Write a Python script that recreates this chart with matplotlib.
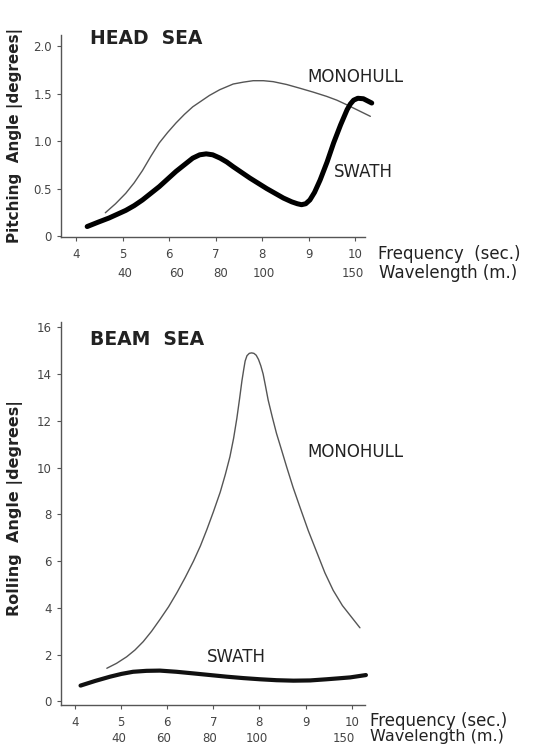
import matplotlib
matplotlib.use('Agg')
import matplotlib.pyplot as plt

plt.rcParams['font.family'] = ['DejaVu Sans']

# head sea (pitching)
head_mono_f = [4.63, 4.85, 5.07, 5.25, 5.43, 5.61, 5.79, 5.97, 6.15, 6.33, 6.51, 6.69, 6.87, 7.09,
               7.38, 7.6, 7.81, 8.03, 8.24, 8.53, 8.82, 9.1, 9.39, 9.61, 9.83, 10.08, 10.33]
head_mono_v = [0.245, 0.34, 0.45, 0.56, 0.69, 0.84, 0.98, 1.09, 1.19, 1.28, 1.36, 1.42, 1.48, 1.54,
               1.60, 1.62, 1.635, 1.635, 1.625, 1.595, 1.555, 1.515, 1.47, 1.43, 1.38, 1.32, 1.26]

head_swath_f = [4.24, 4.47, 4.71, 4.89, 5.07, 5.25, 5.43, 5.61, 5.79, 5.97, 6.15, 6.33, 6.51, 6.66,
                6.80, 6.94, 7.1, 7.24, 7.38, 7.56, 7.74, 7.92, 8.10, 8.28, 8.46, 8.64, 8.76, 8.85,
                8.94, 9.03, 9.13, 9.25, 9.4, 9.54, 9.69, 9.83, 9.90, 9.97, 10.06, 10.18, 10.28, 10.36]
head_swath_v = [0.10, 0.145, 0.19, 0.23, 0.27, 0.32, 0.38, 0.45, 0.52, 0.60, 0.68, 0.75, 0.82, 0.855,
                0.865, 0.855, 0.82, 0.78, 0.73, 0.67, 0.61, 0.555, 0.50, 0.45, 0.40, 0.36, 0.34, 0.33,
                0.34, 0.38, 0.46, 0.59, 0.78, 0.98, 1.17, 1.33, 1.39, 1.43, 1.45, 1.445, 1.42, 1.40]

# beam sea (rolling)
beam_mono_f = [4.69, 4.9, 5.12, 5.3, 5.48, 5.66, 5.84, 6.03, 6.21, 6.39, 6.57, 6.72, 6.86, 7.0,
               7.15, 7.26, 7.36, 7.44, 7.51, 7.57, 7.62, 7.66, 7.69, 7.73, 7.78, 7.83, 7.88,
               7.93, 7.98, 8.03, 8.08, 8.13, 8.19, 8.28, 8.37, 8.48, 8.59, 8.73, 8.88, 9.06,
               9.24, 9.42, 9.60, 9.8, 10.0, 10.18]
beam_mono_v = [1.42, 1.63, 1.91, 2.2, 2.56, 3.0, 3.5, 4.05, 4.65, 5.3, 6.0, 6.65, 7.35, 8.1,
               8.95, 9.7, 10.46, 11.25, 12.1, 12.95, 13.7, 14.2, 14.55, 14.78, 14.88, 14.9, 14.88,
               14.8, 14.62, 14.35, 14.0, 13.5, 12.88, 12.15, 11.46, 10.75, 10.03, 9.15, 8.3, 7.3,
               6.4, 5.5, 4.75, 4.1, 3.6, 3.15]

beam_swath_f = [4.12, 4.44, 4.76, 5.01, 5.26, 5.55, 5.84, 6.2, 6.57, 6.93, 7.29, 7.65, 8.01,
                8.37, 8.74, 9.1, 9.46, 9.72, 9.97, 10.31]
beam_swath_v = [0.68, 0.88, 1.06, 1.18, 1.27, 1.31, 1.32, 1.27, 1.20, 1.13, 1.06, 1.0, 0.95,
                0.91, 0.89, 0.9, 0.95, 0.99, 1.03, 1.13]

freq_ticks = [4, 5, 6, 7, 8, 9, 10]
wave_labels = ['40', '60', '80', '100', '150']
head_wave_pos = [5.05, 6.17, 7.10, 8.03, 9.96]
beam_wave_pos = [4.95, 5.91, 6.92, 7.94, 9.82]

head_yticks = [0, 0.5, 1.0, 1.5, 2.0]
head_ylabels = ['0', '0.5', '1.0', '1.5', '2.0']
beam_yticks = [0, 2, 4, 6, 8, 10, 12, 14, 16]

W, H = 536, 746
fig = plt.figure(figsize=(W / 100, H / 100), dpi=100)

def px_axes(left, top, right, bottom):
    return fig.add_axes([left / W, 1 - bottom / H, (right - left) / W, (bottom - top) / H])

ax1 = px_axes(61, 35, 365, 237)
ax2 = px_axes(61, 322, 365, 705)

grey = '#555555'
txt = '#222222'

for ax in (ax1, ax2):
    for s in ('top', 'right'):
        ax.spines[s].set_visible(False)
    for s in ('left', 'bottom'):
        ax.spines[s].set_color(grey)
        ax.spines[s].set_linewidth(1.0)
    ax.tick_params(colors=grey, length=3, width=0.8, labelsize=8.5, labelcolor='#444444')
    ax.tick_params(axis='x', pad=5)
    ax.set_xticks(freq_ticks)

# top panel
ax1.plot(head_mono_f, head_mono_v, color=grey, lw=1.0, solid_capstyle='round', clip_on=False)
ax1.plot(head_swath_f, head_swath_v, color='black', lw=3.6, solid_capstyle='round',
         solid_joinstyle='round', clip_on=False)
ax1.set_xlim(3.677, 10.215)
ax1.set_ylim(-0.01, 2.116)
ax1.set_yticks(head_yticks)
ax1.set_yticklabels(head_ylabels)
for x, lab in zip(head_wave_pos, wave_labels):
    ax1.annotate(lab, xy=(x, 0), xycoords=('data', 'axes fraction'), xytext=(0, -26),
                 textcoords='offset points', ha='center', va='center', fontsize=8.5, color='#444444')
ax1.text(4.30, 2.08, 'HEAD  SEA', fontsize=13.5, fontweight='bold', va='center', color=txt)
ax1.text(8.97, 1.67, 'MONOHULL', fontsize=12, va='center', color=txt)
ax1.text(9.55, 0.67, 'SWATH', fontsize=12, va='center', color=txt)

# bottom panel
ax2.plot(beam_mono_f, beam_mono_v, color=grey, lw=1.0, solid_capstyle='round', clip_on=False)
ax2.plot(beam_swath_f, beam_swath_v, color='#111111', lw=3.0, solid_capstyle='round',
         solid_joinstyle='round', clip_on=False)
ax2.set_xlim(3.696, 10.29)
ax2.set_ylim(-0.15, 16.22)
ax2.set_yticks(beam_yticks)
for x, lab in zip(beam_wave_pos, wave_labels):
    ax2.annotate(lab, xy=(x, 0), xycoords=('data', 'axes fraction'), xytext=(0, -24),
                 textcoords='offset points', ha='center', va='center', fontsize=8.5, color='#444444')
ax2.text(4.33, 15.49, 'BEAM  SEA', fontsize=13.5, fontweight='bold', va='center', color=txt)
ax2.text(9.03, 10.66, 'MONOHULL', fontsize=12, va='center', color=txt)
ax2.text(6.86, 1.90, 'SWATH', fontsize=12, va='center', color=txt)

# axis captions
fig.text(378 / W, 1 - 254 / H, 'Frequency  (sec.)', fontsize=12, va='center', color=txt)
fig.text(379 / W, 1 - 273 / H, 'Wavelength (m.)', fontsize=12, va='center', color=txt)
fig.text(370 / W, 1 - 721 / H, 'Frequency (sec.)', fontsize=12, va='center', color=txt)
fig.text(370 / W, 1 - 737 / H, 'Wavelength (m.)', fontsize=11.5, va='center', color=txt)

fig.text(15 / W, 1 - 135 / H, 'Pitching  Angle |degrees|', rotation=90, fontsize=11,
         fontweight='bold', ha='center', va='center', color=txt)
fig.text(15 / W, 1 - 508 / H, 'Rolling  Angle |degrees|', rotation=90, fontsize=11.5,
         fontweight='bold', ha='center', va='center', color=txt)

fig.savefig('out.png', dpi=100, facecolor='white')
